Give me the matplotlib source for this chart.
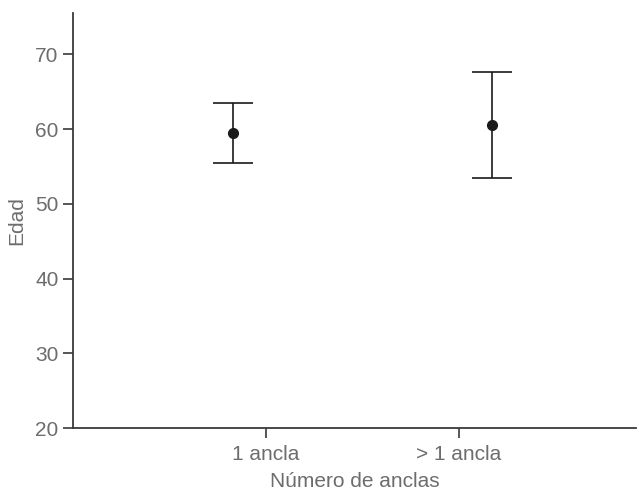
import matplotlib
matplotlib.use('Agg')
import matplotlib.pyplot as plt
import numpy as np

plt.rcParams['font.family'] = ['Liberation Sans Narrow', 'Liberation Sans', 'DejaVu Sans']

grupos = ['1 ancla', '> 1 ancla']
media = [59.5, 60.6]
sup = [63.55, 67.7]
inf = [55.5, 53.5]

tick_pos = np.array([1, 2])
pt_pos = np.array([0.83, 2.175])

gris = '#6d6d6d'
fig = plt.figure(figsize=(6.39, 4.96), dpi=100)
ax = fig.add_axes([0.1142, 0.137, 0.881, 0.836])

media = np.array(media)
err = [media - np.array(inf), np.array(sup) - media]
ax.errorbar(pt_pos, media, yerr=err, fmt='o', color='#1a1a1a', ms=7,
            elinewidth=1.2, capsize=14.4, capthick=1.2)

ax.set_xlim(0, 2.92)
ax.set_ylim(20, 75.5)
ax.set_yticks([20, 30, 40, 50, 60, 70])
ax.set_xticks(tick_pos)
ax.set_xticklabels(grupos)

for s in ['top', 'right']:
    ax.spines[s].set_visible(False)
for s in ['left', 'bottom']:
    ax.spines[s].set_color('#3a3a3a')
    ax.spines[s].set_linewidth(1.3)

ax.tick_params(axis='both', colors='#3a3a3a', labelcolor=gris, labelsize=15,
               length=7, width=1.2)
ax.tick_params(axis='x', pad=5)
ax.set_xlabel('Número de anclas', color=gris, fontsize=15, labelpad=6)
ax.set_ylabel('Edad', color=gris, fontsize=15, labelpad=6)

fig.savefig('out.png', dpi=100)
